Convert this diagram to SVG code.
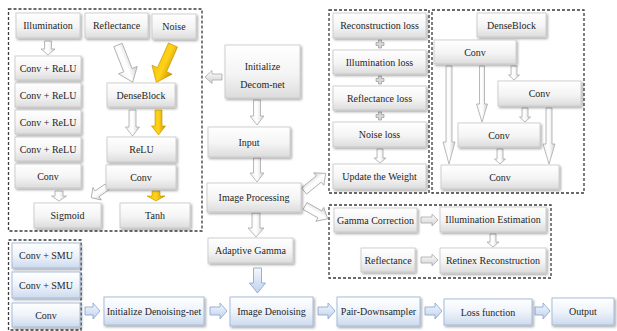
<svg xmlns="http://www.w3.org/2000/svg" width="617" height="331" viewBox="0 0 617 331">
  <defs>
    <linearGradient id="gGrey" x1="0" y1="0" x2="0" y2="1">
      <stop offset="0" stop-color="#ffffff"/>
      <stop offset="0.55" stop-color="#f4f4f4"/>
      <stop offset="1" stop-color="#dcdcdc"/>
    </linearGradient>
    <linearGradient id="gBlue" x1="0" y1="0" x2="0" y2="1">
      <stop offset="0" stop-color="#ffffff"/>
      <stop offset="0.5" stop-color="#eef3fa"/>
      <stop offset="1" stop-color="#ccdaee"/>
    </linearGradient>
    <linearGradient id="gArrow" x1="0" y1="0" x2="1" y2="0">
      <stop offset="0" stop-color="#f2f2f2"/>
      <stop offset="0.5" stop-color="#ffffff"/>
      <stop offset="1" stop-color="#d0d0d0"/>
    </linearGradient>
    <linearGradient id="gArrowH" x1="0" y1="0" x2="0" y2="1">
      <stop offset="0" stop-color="#ffffff"/>
      <stop offset="1" stop-color="#d0d0d0"/>
    </linearGradient>
    <linearGradient id="gYellow" x1="0" y1="0" x2="1" y2="0">
      <stop offset="0" stop-color="#f5c400"/>
      <stop offset="0.5" stop-color="#ffd21a"/>
      <stop offset="1" stop-color="#c99500"/>
    </linearGradient>
    <linearGradient id="gBlueArrow" x1="0" y1="0" x2="0" y2="1">
      <stop offset="0" stop-color="#f4f8fd"/>
      <stop offset="1" stop-color="#bfd1ec"/>
    </linearGradient>
    <filter id="sh" x="-10%" y="-20%" width="125%" height="150%">
      <feDropShadow dx="1.4" dy="1.6" stdDeviation="0.9" flood-color="#000" flood-opacity="0.35"/>
    </filter>
    <style>
      .box { fill: url(#gGrey); stroke: #c6c6c6; stroke-width: 0.8; filter: url(#sh); }
      .bbox { fill: url(#gBlue); stroke: #9fb6d8; stroke-width: 0.9; filter: url(#sh); }
      .lbl { font-family: "Liberation Serif", "Times New Roman", serif; font-size: 10px; fill: #1f1f1f; text-anchor: middle; dominant-baseline: central; }
      .dash { fill: none; stroke: #3a3a3a; stroke-width: 1.3; stroke-dasharray: 3 2; }
      .aw { fill: url(#gArrow); stroke: #a8a8a8; stroke-width: 0.8; }
      .awh { fill: url(#gArrowH); stroke: #a8a8a8; stroke-width: 0.8; }
      .ay { fill: url(#gYellow); stroke: #c49200; stroke-width: 0.6; }
      .ab { fill: url(#gBlueArrow); stroke: #8ea8d2; stroke-width: 0.9; }
      .plus { fill: #d8d8d8; stroke: #8c8c8c; stroke-width: 0.6; }
    </style>
  </defs>

  <rect width="617" height="331" fill="#ffffff"/>

  <!-- dashed frames around the sub-networks -->
  <g id="frames">
    <rect class="dash" x="8.5" y="9" width="193.5" height="222"/>
    <rect class="dash" x="329" y="10" width="100" height="183"/>
    <rect class="dash" x="432" y="10" width="152" height="183"/>
    <rect class="dash" x="329" y="205" width="222" height="73"/>
    <rect class="dash" x="8.5" y="240" width="72.5" height="90"/>
  </g>

  <!-- connectors -->
  <g id="connectors">
    <!-- decomposition network -->
    <path class="aw" d="M44.5,41 H51.5 V49 H55 L48,55 L41,49 H44.5 Z"/>
    <path class="aw" transform="translate(118,45) rotate(-21.5)" d="M-4.5,0 H4.5 V27 H10 L0,40 L-10,27 H-4.5 Z"/>
    <path class="ay" transform="translate(173,45) rotate(24)" d="M-5,0 H5 V27 H11 L0,41 L-11,27 H-5 Z"/>
    <path class="aw" d="M129,110 H136 V127 H139.5 L132.5,136 L125.5,127 H129 Z"/>
    <path class="ay" d="M155,110 H162 V126 H165.5 L158.5,135 L151.5,126 H155 Z"/>
    <path class="aw" d="M55,191 H63 V196 H66.5 L59,201 L51.5,196 H55 Z"/>
    <path class="aw" transform="translate(107,187) rotate(55.6)" d="M-3.5,0 H3.5 V12 H7.5 L0,19 L-7.5,12 H-3.5 Z"/>
    <path class="ay" d="M152,191 H160 V196 H165 L156,201 L147,196 H152 Z"/>

    <!-- main flow -->
    <path class="awh" d="M222,74 V80 H212 V83.5 L205,77 L212,70.5 V74 Z"/>
    <path class="aw" d="M253.5,100 H260.5 V116 H264 L257,125 L250,116 H253.5 Z"/>
    <path class="aw" d="M253.5,158 H260.5 V173 H264 L257,182 L250,173 H253.5 Z"/>
    <path class="aw" d="M252,213 H260 V228 H264 L256,237 L248,228 H252 Z"/>
    <path class="ab" d="M253.5,268 H261.5 V283 H265.5 L257.5,293 L249.5,283 H253.5 Z"/>
    <path class="aw" transform="translate(304,191) rotate(-129)" d="M-4,0 H4 V19 H8 L0,28 L-8,19 H-4 Z"/>
    <path class="aw" transform="translate(305,206) rotate(-60.5)" d="M-4,0 H4 V17 H8 L0,26 L-8,17 H-4 Z"/>

    <!-- loss terms -->
    <path class="plus" d="M378.5,40 H381.5 V42.5 H384 V45.5 H381.5 V48 H378.5 V45.5 H376 V42.5 H378.5 Z"/>
    <path class="plus" d="M378.5,76 H381.5 V78.5 H384 V81.5 H381.5 V84 H378.5 V81.5 H376 V78.5 H378.5 Z"/>
    <path class="plus" d="M378.5,112 H381.5 V114.5 H384 V117.5 H381.5 V120 H378.5 V117.5 H376 V114.5 H378.5 Z"/>
    <path class="aw" d="M377,149 H383 V158 H386 L380,163 L374,158 H377 Z"/>

    <!-- dense block links -->
    <path class="aw" d="M446,66 H452 V142 H455 L449,164 L443,142 H446 Z"/>
    <path class="aw" d="M479.5,66 H484.5 V104 H487.5 L482,122 L476.5,104 H479.5 Z"/>
    <path class="aw" d="M511,66 H517 V75 H519.5 L514,80 L508.5,75 H511 Z"/>
    <path class="aw" d="M522,108 H528 V117 H530.5 L525,122 L519.5,117 H522 Z"/>
    <path class="aw" d="M546,108 H552 V144 H555 L549,164 L543,144 H546 Z"/>
    <path class="aw" d="M497,149 H503 V159 H505.5 L500,164 L494.5,159 H497 Z"/>

    <!-- adaptive gamma / retinex -->
    <path class="awh" d="M421,217 H432 V214 L438,220 L432,226 V223 H421 Z"/>
    <path class="aw" d="M490,234 H496 V242 H499 L493,247 L487,242 H490 Z"/>
    <path class="awh" d="M421,257 H432 V254 L438,260 L432,266 V263 H421 Z"/>

    <!-- denoising pipeline -->
    <path class="ab" d="M85,307 H93 V303 L100,311 L93,319 V315 H85 Z"/>
    <path class="ab" d="M210,307 H220 V303 L227,311 L220,319 V315 H210 Z"/>
    <path class="ab" d="M318,307 H328 V303 L335,311 L328,319 V315 H318 Z"/>
    <path class="ab" d="M425,307 H435 V303 L442,311 L435,319 V315 H425 Z"/>
    <path class="ab" d="M535,307 H543 V303 L550,311 L543,319 V315 H535 Z"/>
  </g>

  <!-- decomposition network nodes -->
  <g id="illumination"><rect class="box" x="16" y="13" width="64" height="25"/><text class="lbl" x="48" y="25.5">Illumination</text></g>
  <g id="reflectance"><rect class="box" x="85" y="13" width="63" height="25"/><text class="lbl" x="116.5" y="25.5">Reflectance</text></g>
  <g id="noise"><rect class="box" x="152" y="14" width="44" height="25"/><text class="lbl" x="174" y="26.5">Noise</text></g>
  <g id="conv-relu-1"><rect class="box" x="15" y="56" width="66" height="24"/><text class="lbl" x="48" y="68">Conv + ReLU</text></g>
  <g id="conv-relu-2"><rect class="box" x="15" y="83" width="66" height="24"/><text class="lbl" x="48" y="95">Conv + ReLU</text></g>
  <g id="conv-relu-3"><rect class="box" x="15" y="110" width="66" height="24"/><text class="lbl" x="48" y="122">Conv + ReLU</text></g>
  <g id="conv-relu-4"><rect class="box" x="15" y="137" width="66" height="24"/><text class="lbl" x="48" y="149">Conv + ReLU</text></g>
  <g id="conv-left"><rect class="box" x="15" y="164" width="66" height="24"/><text class="lbl" x="48" y="176">Conv</text></g>
  <g id="denseblock"><rect class="box" x="107" y="83" width="68" height="24"/><text class="lbl" x="141" y="95">DenseBlock</text></g>
  <g id="relu"><rect class="box" x="107" y="137" width="69" height="25"/><text class="lbl" x="141.5" y="149.5">ReLU</text></g>
  <g id="conv-right"><rect class="box" x="106" y="165" width="70" height="24"/><text class="lbl" x="141" y="177">Conv</text></g>
  <g id="sigmoid"><rect class="box" x="34" y="203" width="67" height="25"/><text class="lbl" x="67.5" y="215.5">Sigmoid</text></g>
  <g id="tanh"><rect class="box" x="120" y="203" width="70" height="25"/><text class="lbl" x="155" y="215.5">Tanh</text></g>

  <!-- main flow nodes -->
  <g id="init-decom"><rect class="box" x="225" y="45" width="75" height="53"/><text class="lbl" x="262.5" y="66">Initialize</text><text class="lbl" x="262.5" y="84">Decom-net</text></g>
  <g id="input"><rect class="box" x="208" y="127" width="82" height="30"/><text class="lbl" x="249" y="142">Input</text></g>
  <g id="image-processing"><rect class="box" x="207" y="183" width="94" height="29"/><text class="lbl" x="254" y="197.5">Image Processing</text></g>
  <g id="adaptive-gamma"><rect class="box" x="208" y="238" width="85" height="25"/><text class="lbl" x="250.5" y="250.5">Adaptive Gamma</text></g>

  <!-- loss nodes -->
  <g id="reconstruction-loss"><rect class="box" x="333" y="13" width="93" height="25"/><text class="lbl" x="379.5" y="25.5">Reconstruction loss</text></g>
  <g id="illumination-loss"><rect class="box" x="333" y="50" width="93" height="24"/><text class="lbl" x="379.5" y="62">Illumination loss</text></g>
  <g id="reflectance-loss"><rect class="box" x="333" y="86" width="93" height="24"/><text class="lbl" x="379.5" y="98">Reflectance loss</text></g>
  <g id="noise-loss"><rect class="box" x="333" y="122" width="93" height="25"/><text class="lbl" x="379.5" y="134.5">Noise loss</text></g>
  <g id="update-weight"><rect class="box" x="333" y="164" width="93" height="25"/><text class="lbl" x="379.5" y="176.5">Update the Weight</text></g>

  <!-- dense block nodes -->
  <g id="denseblock-title"><rect class="box" x="477" y="13" width="69" height="24"/><text class="lbl" x="511.5" y="25">DenseBlock</text></g>
  <g id="db-conv-1"><rect class="box" x="434" y="40" width="82" height="24"/><text class="lbl" x="475" y="52">Conv</text></g>
  <g id="db-conv-2"><rect class="box" x="498" y="81" width="83" height="25"/><text class="lbl" x="539.5" y="93.5">Conv</text></g>
  <g id="db-conv-3"><rect class="box" x="458" y="123" width="82" height="24"/><text class="lbl" x="499" y="135">Conv</text></g>
  <g id="db-conv-4"><rect class="box" x="441" y="165" width="118" height="24"/><text class="lbl" x="500" y="177">Conv</text></g>

  <!-- gamma / retinex nodes -->
  <g id="gamma-correction"><rect class="box" x="334" y="208" width="83" height="24"/><text class="lbl" x="375.5" y="220">Gamma Correction</text></g>
  <g id="illumination-estimation"><rect class="box" x="440" y="207" width="106" height="25"/><text class="lbl" x="493" y="219.5">Illumination Estimation</text></g>
  <g id="reflectance-2"><rect class="box" x="361" y="248" width="54" height="24"/><text class="lbl" x="388" y="260">Reflectance</text></g>
  <g id="retinex-reconstruction"><rect class="box" x="440" y="248" width="106" height="25"/><text class="lbl" x="493" y="260.5">Retinex Reconstruction</text></g>

  <!-- denoising pipeline nodes -->
  <g id="conv-smu-1"><rect class="bbox" x="12" y="243" width="68" height="25"/><text class="lbl" x="46" y="255.5">Conv + SMU</text></g>
  <g id="conv-smu-2"><rect class="bbox" x="12" y="272" width="68" height="26"/><text class="lbl" x="46" y="285">Conv + SMU</text></g>
  <g id="conv-bottom"><rect class="bbox" x="12" y="303" width="68" height="24"/><text class="lbl" x="46" y="315">Conv</text></g>
  <g id="init-denoising"><rect class="bbox" x="104" y="297" width="100" height="28"/><text class="lbl" x="154" y="311">Initialize Denoising-net</text></g>
  <g id="image-denoising"><rect class="bbox" x="230" y="297" width="83" height="29"/><text class="lbl" x="271.5" y="311.5">Image Denoising</text></g>
  <g id="pair-downsampler"><rect class="bbox" x="337" y="297" width="83" height="29"/><text class="lbl" x="378.5" y="311.5">Pair-Downsampler</text></g>
  <g id="loss-function"><rect class="bbox" x="444" y="299" width="88" height="26"/><text class="lbl" x="488" y="312">Loss function</text></g>
  <g id="output"><rect class="bbox" x="552" y="298" width="62" height="27"/><text class="lbl" x="583" y="311.5">Output</text></g>
</svg>
